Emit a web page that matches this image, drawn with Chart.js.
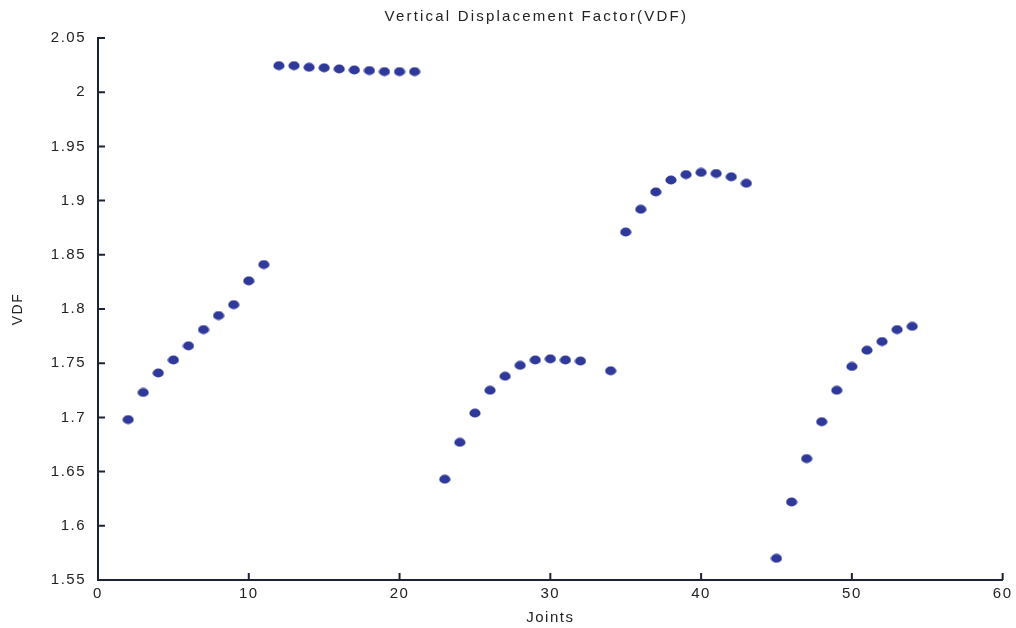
<!DOCTYPE html>
<html>
<head>
<meta charset="utf-8">
<script src="https://cdn.jsdelivr.net/npm/chart.js@4.4.1/dist/chart.umd.min.js"></script>
<style>
  html, body { margin: 0; padding: 0; background: #fff; }
  #wrap { width: 1016px; height: 628px; }
</style>
</head>
<body>
<div id="wrap"><canvas id="vdf" width="1016" height="628"></canvas></div>
<script>
// joint numbers and their vertical displacement factor
const joints = [
  2, 3, 4, 5, 6, 7, 8, 9, 10, 11,
  12, 13, 14, 15, 16, 17, 18, 19, 20, 21,
  23, 24, 25, 26, 27, 28, 29, 30, 31, 32, 34,
  35, 36, 37, 38, 39, 40, 41, 42, 43,
  45, 46, 47, 48, 49, 50, 51, 52, 53, 54
];
const vdf = [
  1.698, 1.723, 1.741, 1.753, 1.766, 1.781, 1.794, 1.804, 1.826, 1.841,
  2.0245, 2.0245, 2.0230, 2.0225, 2.0215, 2.0205, 2.0200, 2.0190, 2.0190, 2.0190,
  1.643, 1.677, 1.704, 1.725, 1.738, 1.748, 1.753, 1.754, 1.753, 1.752, 1.743,
  1.871, 1.892, 1.908, 1.919, 1.924, 1.926, 1.925, 1.922, 1.916,
  1.570, 1.622, 1.662, 1.696, 1.725, 1.747, 1.762, 1.770, 1.781, 1.784
];
const xTicks = [0, 10, 20, 30, 40, 50, 60];
const yTicks = [1.55, 1.6, 1.65, 1.7, 1.75, 1.8, 1.85, 1.9, 1.95, 2, 2.05];
const chartTitle = 'Vertical Displacement Factor(VDF)';

const AXIS = '#1e2236';
const DOT = '#2f399a';
const TEXT = '#222';
const FONT = '"Liberation Sans", Arial, sans-serif';

// slightly flattened dot, like the original marker
function makeDot() {
  const c = document.createElement('canvas');
  c.width = 12; c.height = 10;
  const g = c.getContext('2d');
  g.fillStyle = DOT;
  g.beginPath();
  g.ellipse(6, 5, 5.6, 4.4, 0, 0, Math.PI * 2);
  g.fill();
  return c;
}

// letter spacing for all text, inward ticks on both axes, and the title
const styling = {
  id: 'styling',
  beforeDraw(chart) {
    chart.ctx.letterSpacing = '1.5px';
  },
  afterDraw(chart) {
    const { ctx, chartArea, scales: { x, y } } = chart;
    ctx.save();
    ctx.strokeStyle = AXIS;
    ctx.lineWidth = 2;
    ctx.beginPath();
    xTicks.forEach(v => {
      const px = x.getPixelForValue(v);
      ctx.moveTo(px, y.bottom);
      ctx.lineTo(px, y.bottom - 7);
    });
    yTicks.forEach(v => {
      const py = y.getPixelForValue(v);
      ctx.moveTo(x.left, py);
      ctx.lineTo(x.left + 7, py);
    });
    ctx.stroke();

    ctx.letterSpacing = '2.2px';
    ctx.fillStyle = TEXT;
    ctx.font = '15px ' + FONT;
    ctx.textAlign = 'center';
    ctx.textBaseline = 'middle';
    ctx.fillText(chartTitle, (chartArea.left + chartArea.right) / 2 - 14, 17);
    ctx.restore();
  }
};

const points = joints.map((j, i) => ({ x: j, y: vdf[i] }));

new Chart(document.getElementById('vdf'), {
  type: 'scatter',
  data: {
    datasets: [{
      label: 'VDF',
      data: points,
      pointStyle: makeDot(),
      pointRadius: 5,
      pointHoverRadius: 5
    }]
  },
  plugins: [styling],
  options: {
    responsive: false,
    animation: false,
    layout: { padding: { left: 0, right: 4, top: 38, bottom: 0 } },
    plugins: {
      legend: { display: false },
      tooltip: { enabled: false },
      title: { display: false }
    },
    scales: {
      x: {
        type: 'linear',
        min: 0,
        max: 60,
        afterBuildTicks: s => { s.ticks = xTicks.map(v => ({ value: v })); },
        afterFit: s => { s.height = 48; },
        grid: { display: false, drawTicks: false },
        border: { display: true, color: AXIS, width: 2 },
        ticks: {
          color: TEXT,
          font: { family: FONT, size: 15 },
          padding: 5,
          maxRotation: 0
        },
        title: {
          display: true,
          text: 'Joints',
          color: TEXT,
          font: { family: FONT, size: 15 },
          padding: { top: 2, bottom: 1 }
        }
      },
      y: {
        type: 'linear',
        min: 1.55,
        max: 2.05,
        afterBuildTicks: s => { s.ticks = yTicks.map(v => ({ value: v })); },
        afterFit: s => { s.width = 98; },
        grid: { display: false, drawTicks: false },
        border: { display: true, color: AXIS, width: 2 },
        ticks: {
          color: TEXT,
          font: { family: FONT, size: 15 },
          padding: 12,
          callback: v => String(Number(v.toFixed(2)))
        },
        title: {
          display: true,
          text: 'VDF',
          color: TEXT,
          font: { family: FONT, size: 14 },
          padding: { top: 10, bottom: 0 }
        }
      }
    }
  }
});
</script>
</body>
</html>
